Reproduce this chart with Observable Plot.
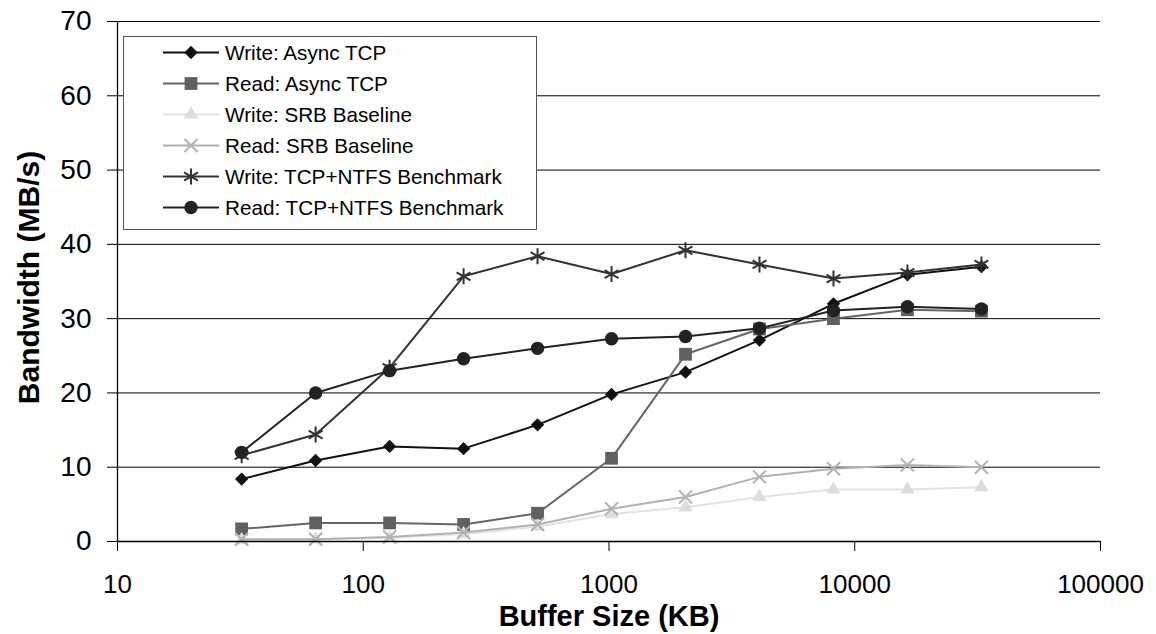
<!DOCTYPE html>
<html>
<head>
<meta charset="utf-8">
<script src="https://cdn.jsdelivr.net/npm/d3@7"></script>
<script src="https://cdn.jsdelivr.net/npm/@observablehq/plot@0.6"></script>
<style>
  html, body { margin: 0; padding: 0; background: #fff; }
  #wrap { position: relative; width: 1156px; height: 634px; font-family: "Liberation Sans", Arial, sans-serif; }
  #legend { position: absolute; left: 123px; top: 36px; width: 412px; height: 192px; border: 1px solid #555; background: #fff; }
  .row { position: absolute; left: 0; height: 31px; display: flex; align-items: center; font-size: 20.7px; color: #000; white-space: nowrap; }
  .row svg { display: block; }
</style>
</head>
<body>
<div id="wrap"><div id="legend"></div></div>
<script>
// ---- data ----
const bufferSizes = [32, 64, 128, 256, 512, 1024, 2048, 4096, 8192, 16384, 32768];
const seriesNames = [
  "Write: Async TCP",
  "Read: Async TCP",
  "Write: SRB Baseline",
  "Read: SRB Baseline",
  "Write: TCP+NTFS Benchmark",
  "Read: TCP+NTFS Benchmark"
];
const writeAsyncTCP = [8.4, 10.9, 12.8, 12.5, 15.7, 19.8, 22.8, 27.1, 32.0, 35.9, 37.0];
const readAsyncTCP  = [1.7, 2.5, 2.5, 2.3, 3.8, 11.2, 25.2, 28.6, 30.0, 31.2, 31.0];
const writeSRB      = [0.2, 0.3, 0.5, 1.0, 2.0, 3.7, 4.6, 6.0, 7.0, 7.0, 7.3];
const readSRB       = [0.3, 0.3, 0.6, 1.2, 2.3, 4.4, 6.0, 8.7, 9.8, 10.3, 10.0];
const writeNTFS     = [11.6, 14.4, 23.4, 35.7, 38.4, 36.0, 39.2, 37.3, 35.4, 36.2, 37.3];
const readNTFS      = [12.0, 20.0, 23.0, 24.6, 26.0, 27.3, 27.6, 28.7, 31.1, 31.6, 31.3];
const xTicks = [10, 100, 1000, 10000, 100000];
const yTicks = [0, 10, 20, 30, 40, 50, 60, 70];

// ---- styles ----
const seriesValues = [writeAsyncTCP, readAsyncTCP, writeSRB, readSRB, writeNTFS, readNTFS];
const styles = [
  {line: "#111111", mark: "#111111", symbol: "diamond2", r: 6.0, filled: true,  d3sym: d3.symbolDiamond2},
  {line: "#666666", mark: "#606060", symbol: "square",   r: 7.2, filled: true,  d3sym: d3.symbolSquare},
  {line: "#e2e2e2", mark: "#dddddd", symbol: "triangle", r: 5.3, filled: true,  d3sym: d3.symbolTriangle},
  {line: "#b2b2b2", mark: "#b2b2b2", symbol: "times",    r: 6.0, filled: false, d3sym: d3.symbolTimes},
  {line: "#333333", mark: "#333333", symbol: "asterisk", r: 7.6, filled: false, d3sym: d3.symbolAsterisk},
  {line: "#222222", mark: "#222222", symbol: "circle",   r: 6.7, filled: true,  d3sym: d3.symbolCircle}
];

const marks = [
  Plot.ruleY(yTicks, {stroke: "#000", strokeWidth: 1}),
  Plot.ruleX([10], {stroke: "#000", strokeWidth: 1.3})
];
seriesValues.forEach((vals, i) => {
  const s = styles[i];
  const rows = bufferSizes.map((x, j) => ({x, y: vals[j]}));
  marks.push(Plot.line(rows, {x: "x", y: "y", stroke: s.line, strokeWidth: 2}));
  marks.push(Plot.dot(rows, s.filled
    ? {x: "x", y: "y", symbol: () => s.symbol, r: s.r, fill: s.mark, stroke: "none"}
    : {x: "x", y: "y", symbol: () => s.symbol, r: s.r, fill: "none", stroke: s.mark, strokeWidth: 2}));
});
marks.push(
  Plot.axisY(yTicks, {tickSize: 10, tickPadding: 16, fontSize: 28, label: null, stroke: "#000", tickFormat: d => String(d)}),
  Plot.axisX(xTicks, {tickSize: 10, tickPadding: 23, fontSize: 26, label: null, stroke: "#000", tickFormat: d => String(d)}),
  Plot.ruleY([0], {stroke: "#000", strokeWidth: 1.3}),
  Plot.text(["Buffer Size (KB)"], {frameAnchor: "bottom", dy: 84, fontSize: 29, fontWeight: "bold", fill: "#000"}),
  Plot.text(["Bandwidth (MB/s)"], {frameAnchor: "left", textAnchor: "middle", dx: -88, dy: -4, rotate: -90, fontSize: 30, fontWeight: "bold", fill: "#000"})
);

const chart = Plot.plot({
  width: 1156,
  height: 634,
  marginLeft: 117,
  marginRight: 56,
  marginTop: 21,
  marginBottom: 93,
  style: {fontFamily: "'Liberation Sans', Arial, sans-serif", background: "#fff", color: "#000", overflow: "visible"},
  x: {type: "log", domain: [10, 100000]},
  y: {domain: [0, 70]},
  symbol: {type: "identity"},
  marks
});
const wrap = document.getElementById("wrap");
wrap.insertBefore(chart, wrap.firstChild);

// ---- legend ----
const legend = document.getElementById("legend");
seriesNames.forEach((name, i) => {
  const s = styles[i];
  const row = document.createElement("div");
  row.className = "row";
  row.style.top = (i * 31) + "px";
  const sw = d3.create("svg").attr("width", 101).attr("height", 31);
  sw.append("line").attr("x1", 39).attr("x2", 95).attr("y1", 15.5).attr("y2", 15.5)
    .attr("stroke", s.line).attr("stroke-width", 2);
  const size = Math.PI * s.r * s.r;
  sw.append("path").attr("transform", "translate(67,15.5)")
    .attr("d", d3.symbol(s.d3sym, size)())
    .attr("fill", s.filled ? s.mark : "none")
    .attr("stroke", s.filled ? "none" : s.mark)
    .attr("stroke-width", 2);
  row.appendChild(sw.node());
  const t = document.createElement("span");
  t.textContent = name;
  row.appendChild(t);
  legend.appendChild(row);
});
</script>
</body>
</html>
